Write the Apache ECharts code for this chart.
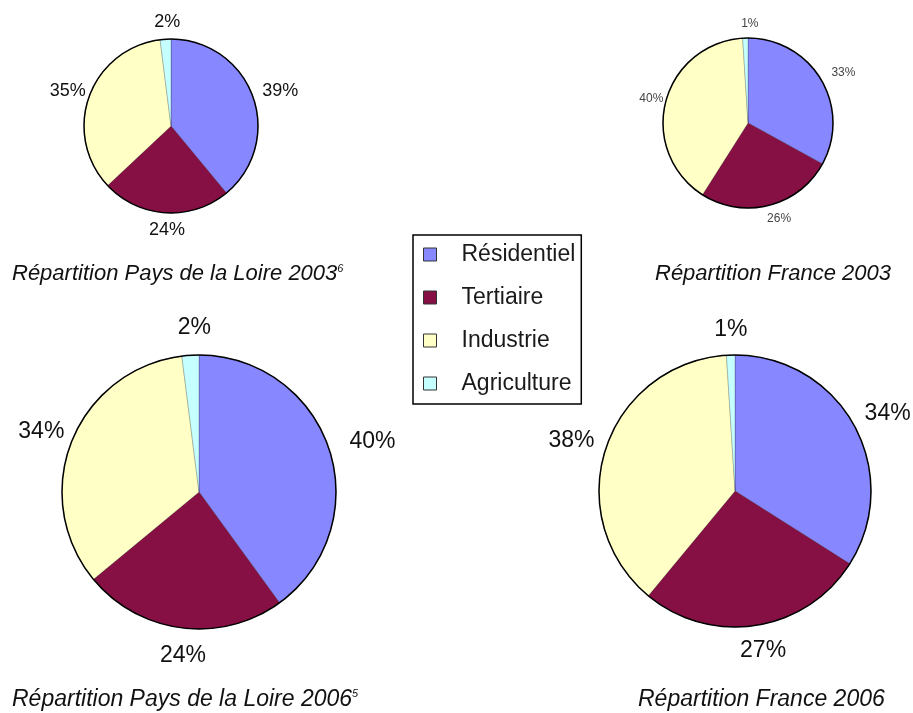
<!DOCTYPE html>
<html>
<head>
<meta charset="utf-8">
<script src="https://cdn.jsdelivr.net/npm/echarts@6/dist/echarts.min.js"></script>
<style>
  html, body { margin: 0; padding: 0; background: #fff; }
  #chart { width: 913px; height: 713px; }
</style>
</head>
<body>
<div id="chart"></div>
<script>
// secteurs et parts (%)
const categories = ['Résidentiel', 'Tertiaire', 'Industrie', 'Agriculture']
const paysLoire2003 = [39, 24, 35, 2]
const france2003 = [33, 26, 40, 1]
const paysLoire2006 = [40, 24, 34, 2]
const france2006 = [34, 27, 38, 1]
const captions = [
  ['Répartition Pays de la Loire 2003', '6'],
  ['Répartition France 2003', ''],
  ['Répartition Pays de la Loire 2006', '5'],
  ['Répartition France 2006', '']
]

const colors = ['#8787ff', '#861044', '#ffffc6', '#c6ffff']
const font = '"Liberation Sans", Arial, sans-serif'

// position / taille de chaque camembert
const pies = [
  { values: paysLoire2003, center: [171, 126], r: 87, fontSize: 18, color: '#111', gap: 8, shift: 3 },
  { values: france2003, center: [748, 123], r: 85, fontSize: 12, color: '#444', gap: 8, shift: 5 },
  { values: paysLoire2006, center: [199, 492], r: 137, fontSize: 23, color: '#111', gap: 16, shift: 6 },
  { values: france2006, center: [735, 491], r: 136, fontSize: 23, color: '#111', gap: 14, shift: 1 }
]
const captionPos = [[12, 274, 22], [655, 274, 22], [12, 700, 23], [638, 700, 23]]

// étiquettes posées à l'extérieur, comme dans Excel
function labelLayoutFor(p) {
  const total = p.values.reduce((a, b) => a + b, 0)
  return function(params) {
    let before = 0
    for (let i = 0; i < params.dataIndex; i++) before += p.values[i]
    const mid = (before + p.values[params.dataIndex] / 2) / total * Math.PI * 2
    const ux = Math.sin(mid)
    const uy = -Math.cos(mid)
    const w = params.labelRect.width
    const h = params.labelRect.height
    return {
      x: p.center[0] + ux * (p.r + p.gap) + ux * w / 2 + p.shift,
      y: p.center[1] + uy * (p.r + p.gap) + uy * h / 2,
      align: 'center',
      verticalAlign: 'middle'
    }
  }
}

const series = []
pies.forEach((p) => {
  series.push({
    type: 'pie',
    center: p.center,
    radius: p.r,
    startAngle: 90,
    clockwise: true,
    avoidLabelOverlap: false,
    silent: true,
    data: categories.map((c, i) => ({ name: c, value: p.values[i] })),
    itemStyle: { borderWidth: 0.6, borderColor: 'rgba(0,0,0,0.35)' },
    label: {
      show: true,
      position: 'outside',
      formatter: (prm) => prm.value + '%',
      fontSize: p.fontSize,
      fontFamily: font,
      color: p.color
    },
    labelLine: { show: false },
    labelLayout: labelLayoutFor(p),
    emphasis: { disabled: true }
  })
  // contour noir du disque
  series.push({
    type: 'pie',
    center: p.center,
    radius: p.r,
    silent: true,
    data: [{ name: 'contour', value: 1 }],
    itemStyle: { color: 'rgba(0,0,0,0)', borderColor: '#000', borderWidth: 1.5 },
    label: { show: false },
    labelLine: { show: false },
    emphasis: { disabled: true }
  })
})

const graphics = captions.map((c, i) => ({
  type: 'text',
  x: captionPos[i][0],
  y: captionPos[i][1],
  style: {
    text: c[0] + (c[1] ? '{sup|' + c[1] + '}' : ''),
    fontSize: captionPos[i][2],
    fontStyle: 'italic',
    fontFamily: font,
    fill: '#111',
    verticalAlign: 'middle',
    rich: {
      sup: { fontSize: 11, fontStyle: 'italic', fontFamily: font, verticalAlign: 'top', padding: [0, 0, 8, 0] }
    }
  }
}))

const chart = echarts.init(document.getElementById('chart'))
chart.setOption({
  animation: false,
  color: colors,
  legend: {
    data: categories,
    orient: 'vertical',
    left: 413,
    top: 235,
    icon: 'rect',
    itemWidth: 13,
    itemHeight: 13,
    itemGap: 20,
    selectedMode: false,
    padding: [8, 6, 9, 10],
    borderColor: '#000',
    borderWidth: 1.5,
    backgroundColor: '#fff',
    itemStyle: { borderColor: '#333', borderWidth: 1 },
    textStyle: {
      fontSize: 23,
      fontFamily: font,
      color: '#1a1a1a',
      padding: [0, 0, 0, 20]
    }
  },
  graphic: graphics,
  series: series
})
</script>
</body>
</html>
